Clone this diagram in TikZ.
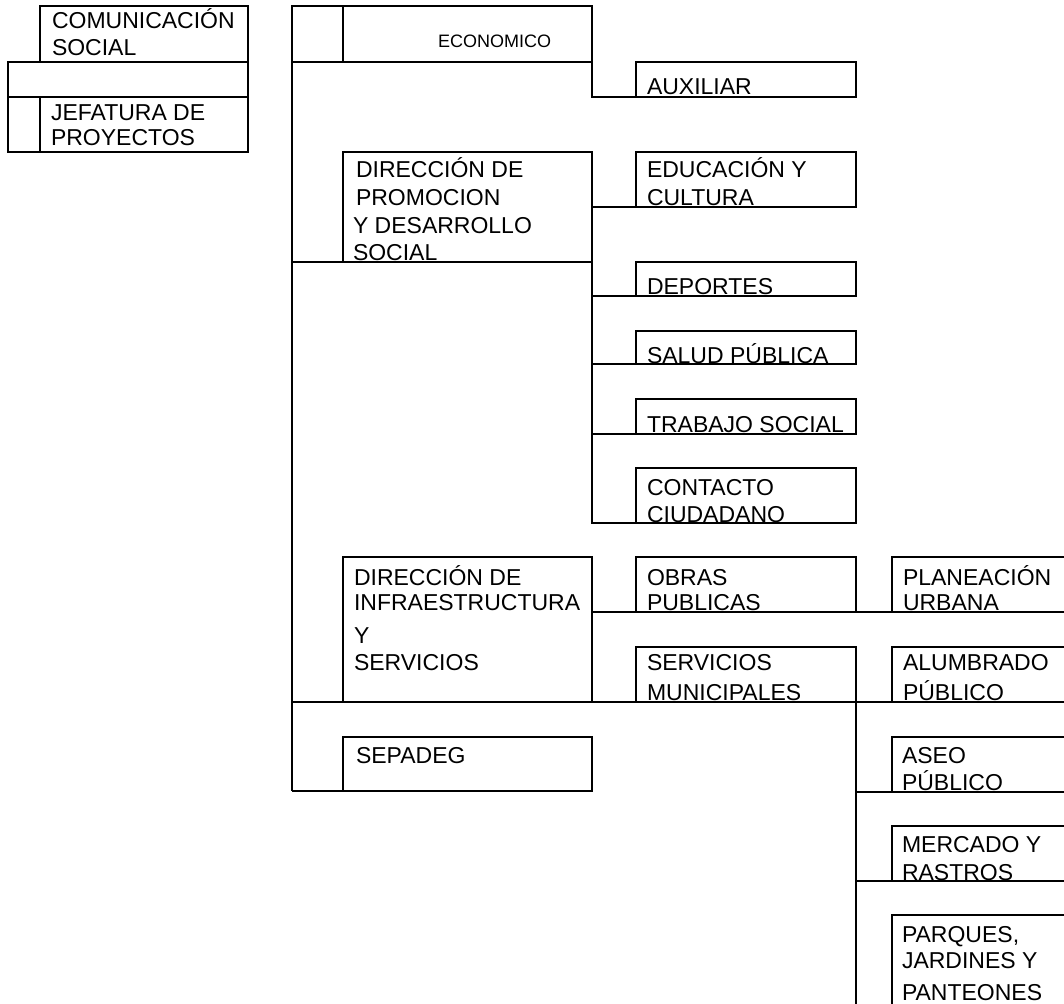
\documentclass[tikz,border=0pt]{standalone}
\usepackage{fontspec}
\setmainfont{Liberation Sans}
\begin{document}
\begin{tikzpicture}[x=1pt,y=-1pt,
  line width=1.2pt,
  box/.style={draw=black, line width=1.2pt, inner sep=0pt, outer sep=0pt, rectangle},
  txt/.style={anchor=base west, inner sep=0pt, outer sep=0pt, text=black, font=\fontsize{23}{27}\selectfont},
  smalltxt/.style={txt, font=\fontsize{18}{21}\selectfont}]
\useasboundingbox (0,0) rectangle (1064,1003);
\fill[white] (0,0) rectangle (1064,1003);
\clip (0,0) rectangle (1064,1003);
\coordinate (bot) at (856,1020);
% left group
\node[box, minimum width=208pt, minimum height=56pt] (com) at (144,34) {};
\node[box, minimum width=240pt, minimum height=90pt] (frame) at (128,107) {};
\node[box, minimum width=208pt, minimum height=55pt] (jef) at (144,124.5) {};
\draw (frame.west |- jef.north) -- (jef.north east);
% main column
\node[box, minimum width=300pt, minimum height=56pt] (econ) at (442,34) {};
\draw ([xshift=51pt]econ.north west) -- ([xshift=51pt]econ.south west);
\node[box, minimum width=249pt, minimum height=110pt] (promo) at (467.5,207) {};
\node[box, minimum width=249pt, minimum height=145pt] (infra) at (467.5,629.5) {};
\node[box, minimum width=249pt, minimum height=54pt] (sep) at (467.5,764) {};
% second column
\node[box, minimum width=220pt, minimum height=35pt] (aux) at (746,79.5) {};
\node[box, minimum width=220pt, minimum height=55pt] (educ) at (746,179.5) {};
\node[box, minimum width=220pt, minimum height=34pt] (dep) at (746,279) {};
\node[box, minimum width=220pt, minimum height=33pt] (salud) at (746,347.5) {};
\node[box, minimum width=220pt, minimum height=35pt] (trab) at (746,416.5) {};
\node[box, minimum width=220pt, minimum height=55pt] (cont) at (746,495.5) {};
\node[box, minimum width=220pt, minimum height=55pt] (obras) at (746,584.5) {};
\node[box, minimum width=220pt, minimum height=55pt] (serv) at (746,674.5) {};
% third column (cut at the right edge)
\node[box, minimum width=208pt, minimum height=55pt] (plan) at (996,584.5) {};
\node[box, minimum width=208pt, minimum height=55pt] (alum) at (996,674.5) {};
\node[box, minimum width=208pt, minimum height=55pt] (aseo) at (996,764.5) {};
\node[box, minimum width=208pt, minimum height=55pt] (merc) at (996,853.5) {};
\node[box, minimum width=208pt, minimum height=145pt] (parq) at (996,987.5) {};
% connectors
\draw (econ.south west) -- (econ.west |- sep.south);
\draw (econ.south east) |- (aux.south east);
\draw (econ.west |- promo.south) -- (promo.south east);
\draw (promo.east) -- (educ.south east);
\draw (promo.east) -- (promo.east |- cont.south) -- (cont.south east);
\draw (promo.east |- dep.south) -- (dep.south east);
\draw (promo.east |- salud.south) -- (salud.south east);
\draw (promo.east |- trab.south) -- (trab.south east);
\draw (infra.east |- obras.south) -- (plan.south east);
\draw (econ.west |- infra.south) -- (alum.south east);
\draw (econ.west |- sep.south) -- (sep.south east);
\draw (serv.south east) -- (bot);
\draw (serv.east |- aseo.south) -- (aseo.south east);
\draw (serv.east |- merc.south) -- (merc.south east);
% texts
\node[txt] (t1) at (52,29) {COMUNICACIÓN};
\node[txt] (t2) at (52,56) {SOCIAL};
\node[txt] (t3) at (51,121) {JEFATURA DE};
\node[txt] (t4) at (51,146) {PROYECTOS};
\node[smalltxt] (t5) at (438,48) {ECONOMICO};
\node[txt] (t6) at (647,95) {AUXILIAR};
\node[txt] (t7) at (356,178) {DIRECCIÓN DE};
\node[txt] (t8) at (356,205) {PROMOCION};
\node[txt] (t9) at (353,233) {Y DESARROLLO};
\node[txt] (t10) at (353,260) {SOCIAL};
\node[txt] (t11) at (647,178) {EDUCACIÓN Y};
\node[txt] (t12) at (647,205) {CULTURA};
\node[txt] (t13) at (647,294) {DEPORTES};
\node[txt] (t14) at (647,363) {SALUD PÚBLICA};
\node[txt] (t15) at (647,432) {TRABAJO SOCIAL};
\node[txt] (t16) at (647,495) {CONTACTO};
\node[txt] (t17) at (647,522) {CIUDADANO};
\node[txt] (t18) at (354,585) {DIRECCIÓN DE};
\node[txt] (t19) at (354,610) {INFRAESTRUCTURA};
\node[txt] (t20) at (354,643) {Y};
\node[txt] (t21) at (354,670) {SERVICIOS};
\node[txt] (t22) at (647,585) {OBRAS};
\node[txt] (t23) at (647,610) {PUBLICAS};
\node[txt] (t24) at (903,585) {PLANEACIÓN};
\node[txt] (t25) at (903,610) {URBANA};
\node[txt] (t26) at (647,670) {SERVICIOS};
\node[txt] (t27) at (647,700) {MUNICIPALES};
\node[txt] (t28) at (903,670) {ALUMBRADO};
\node[txt] (t29) at (903,700) {PÚBLICO};
\node[txt] (t30) at (356,763) {SEPADEG};
\node[txt] (t31) at (902,763) {ASEO};
\node[txt] (t32) at (902,790) {PÚBLICO};
\node[txt] (t33) at (902,852) {MERCADO Y};
\node[txt] (t34) at (902,880) {RASTROS};
\node[txt] (t35) at (902,942) {PARQUES,};
\node[txt] (t36) at (902,968) {JARDINES Y};
\node[txt] (t37) at (902,1000) {PANTEONES};
\end{tikzpicture}
\end{document}
